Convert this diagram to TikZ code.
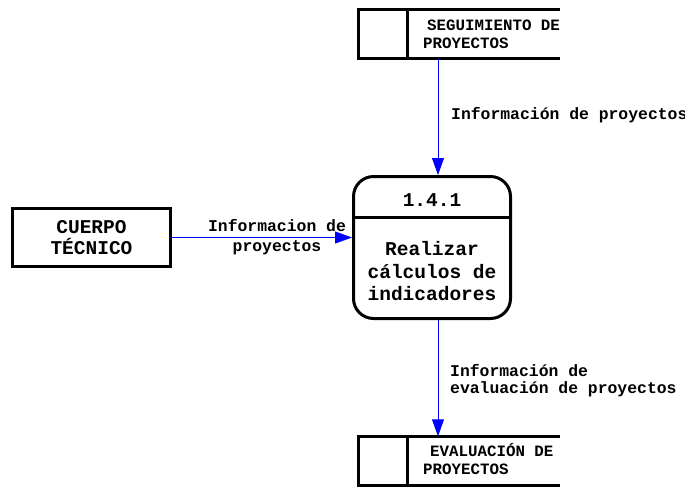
\documentclass[tikz,border=0pt]{standalone}
\usepackage{fontspec}
\setmainfont{Liberation Mono}
\usetikzlibrary{positioning,arrows.meta}

\tikzset{
  boxtxt/.style={font=\bfseries\fontsize{19.5}{21}\selectfont, align=center, inner sep=0pt},
  proctxt/.style={font=\bfseries\fontsize{19.5}{22.5}\selectfont, align=center, inner sep=0pt},
  storetxt/.style={font=\bfseries\fontsize{15.8}{18}\selectfont, align=left, inner sep=0pt, anchor=west},
  lbl/.style={font=\bfseries\fontsize{16.4}{18}\selectfont, align=left, inner sep=0pt},
  flow/.style={draw=blue, line width=0.9pt, -{Triangle[length=17pt,width=12pt]}},
  heavy/.style={line width=3pt},
  storebox/.style={minimum width=201.5, minimum height=49, inner sep=0pt}
}

\begin{document}
\begin{tikzpicture}[x=1pt,y=-1pt]
  \useasboundingbox (0,0) rectangle (685,491);
  % external entity
  \node[draw, heavy, minimum width=158, minimum height=58, boxtxt] (cuerpo) at (91.5,237.5) {CUERPO\\TÉCNICO};
  % process
  \node[draw, heavy, rounded corners=20pt, minimum width=157, minimum height=142] (proc) at (432,247.5) {};
  \draw[heavy] (proc.west |- 0,217) -- (proc.east |- 0,217);
  \node[boxtxt] (num) at (432,200) {1.4.1};
  \node[proctxt] (desc) at (432,271.5) {Realizar\\cálculos de\\indicadores};
  % data stores
  \node[storebox] (seg) at (459.25,34) {};
  \draw[heavy] (seg.north east) -- (seg.north west) -- (seg.south west) -- (seg.south east);
  \draw[heavy] ([xshift=49.5]seg.north west) -- ([xshift=49.5]seg.south west);
  \node[storetxt] (segt) at (423,34) {\hspace{4pt}SEGUIMIENTO DE\\PROYECTOS};
  \node[storebox] (eva) at (459.25,461) {};
  \draw[heavy] (eva.north east) -- (eva.north west) -- (eva.south west) -- (eva.south east);
  \draw[heavy] ([xshift=49.5]eva.north west) -- ([xshift=49.5]eva.south west);
  \node[storetxt] (evat) at (423,459.5) {\hspace{7pt}EVALUACIÓN DE\\PROYECTOS};
  % flows
  \coordinate (ax) at (438,0);
  \draw[flow] (seg.south -| ax) -- (proc.north -| ax);
  \node[lbl, anchor=west] (l1) at (451,115) {Información de proyectos};
  \draw[flow] (cuerpo.east) -- (cuerpo.east -| proc.west);
  \node[lbl, align=center, baseline=0pt, font=\bfseries\fontsize{16.4}{20}\selectfont] (l2) at (277,237) {Informacion de\\proyectos};
  \draw[flow] (proc.south -| ax) -- (eva.north -| ax);
  \node[lbl, anchor=west, font=\bfseries\fontsize{16.4}{17}\selectfont] (l3) at (450,380.5) {Información de\\evaluación de proyectos};
\end{tikzpicture}
\end{document}
